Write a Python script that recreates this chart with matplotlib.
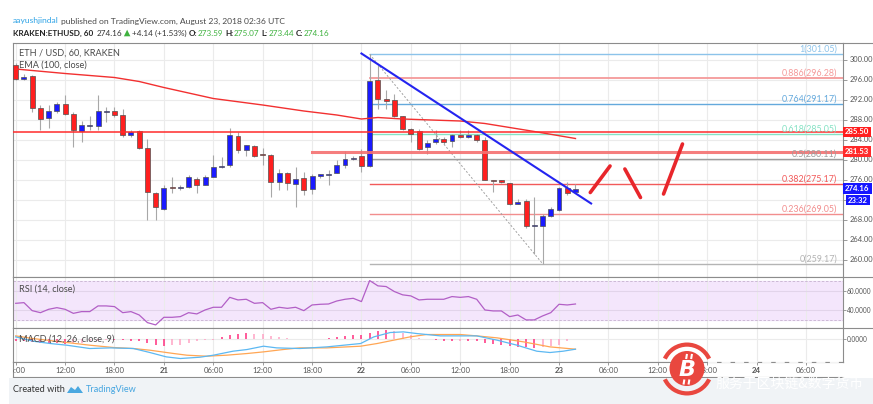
import matplotlib
matplotlib.use('Agg')
import matplotlib.pyplot as plt
from matplotlib.patches import Rectangle, Circle, Wedge, Polygon

plt.rcParams['font.family'] = ['Lato', 'DejaVu Sans']

# hourly candles, index 0 = 20 Aug 06:00 ... index 68 = 23 Aug 02:00
opens = [298.9, 296.1, 296.8, 290.4, 288.4, 289.8, 291.1, 289.2, 285.7, 286.8,
         286.7, 289.6, 289.6, 288.9, 284.9, 285.8, 282.4, 273.4, 270.1, 274.5,
         274.3, 274.6, 276.2, 274.9, 276.6, 278.6, 279.0, 284.7, 282.0, 282.8,
         281.1, 281.0, 275.6, 277.4, 275.2, 276.4, 274.2, 276.7, 277.0, 277.4,
         279.0, 280.1, 280.7, 278.7, 295.9, 292.1, 291.9, 288.7, 286.2, 285.7,
         282.6, 283.5, 284.1, 283.7, 284.9, 284.6, 284.9, 283.9, 276.0, 275.9,
         275.4, 271.1, 271.6, 266.8, 266.8, 268.7, 270.0, 274.3, 273.59]
highs = [299.3, 297.2, 297.0, 290.9, 290.9, 291.6, 292.9, 289.5, 287.8, 288.8,
         293.0, 290.5, 290.5, 290.1, 285.9, 285.9, 284.2, 273.6, 274.9, 276.6,
         274.9, 276.9, 276.6, 276.9, 281.0, 280.5, 286.4, 285.5, 282.9, 282.9,
         282.4, 281.1, 278.2, 277.6, 278.6, 277.6, 277.2, 277.2, 278.0, 279.9,
         281.8, 280.8, 282.2, 301.1, 298.9, 294.0, 293.2, 288.7, 286.4, 286.2,
         283.9, 286.0, 284.5, 285.2, 286.0, 286.0, 285.1, 284.6, 276.0, 275.9,
         275.4, 272.1, 272.1, 272.6, 269.2, 270.5, 274.6, 275.5, 275.07]
lows = [295.9, 295.9, 289.6, 286.0, 286.4, 289.4, 288.9, 282.6, 283.6, 285.9,
        286.0, 287.6, 288.6, 284.6, 284.5, 282.2, 268.0, 268.0, 269.9, 273.3,
        273.9, 274.3, 273.3, 274.9, 276.6, 278.4, 278.6, 281.3, 280.7, 280.6,
        279.0, 272.6, 273.9, 273.9, 270.6, 272.9, 273.2, 276.4, 274.9, 277.3,
        278.4, 280.0, 277.6, 278.5, 290.2, 290.2, 288.6, 286.0, 283.6, 281.9,
        281.2, 283.2, 283.2, 282.6, 284.4, 284.4, 283.6, 275.9, 273.6, 275.3,
        270.9, 271.1, 266.3, 261.2, 259.1, 268.5, 269.7, 272.9, 273.44]
closes = [296.1, 296.6, 290.4, 288.2, 289.8, 291.1, 289.2, 285.9, 286.8, 286.9,
          289.6, 289.7, 289.0, 284.9, 285.6, 282.4, 273.6, 270.6, 274.4, 274.3,
          274.5, 276.6, 274.9, 276.6, 278.6, 278.7, 284.8, 281.9, 282.8, 280.8,
          281.0, 275.6, 277.4, 275.4, 276.2, 273.9, 276.7, 277.0, 277.1, 279.0,
          280.1, 280.4, 278.7, 295.6, 292.1, 291.8, 288.7, 286.2, 285.2, 282.2,
          283.4, 284.1, 283.6, 284.9, 284.6, 285.0, 283.9, 276.0, 275.8, 275.5,
          271.1, 271.6, 266.8, 266.9, 268.7, 270.0, 274.3, 273.4, 274.16]

ema_hours = [0, 6, 12, 15, 18, 24, 30, 35, 39, 42, 44, 47, 54, 57, 63, 68]
ema_vals = [298.1, 297.2, 296.4, 295.6, 294.4, 292.2, 290.9, 289.7, 288.9,
            288.1, 288.4, 288.1, 287.7, 287.2, 285.6, 284.2]

rsi_vals = [46.9, 47.6, 39.3, 37.2, 40.7, 42.4, 40.7, 36.5, 38.3, 38.3,
            44.2, 44.2, 43.5, 37.2, 38.3, 34.8, 26.9, 24.5, 32.4, 32.4,
            33.1, 37.2, 35.9, 40.0, 42.8, 42.8, 53.1, 50.4, 51.1, 46.9,
            47.6, 40.7, 42.8, 41.7, 42.8, 39.3, 45.2, 45.9, 46.2, 49.3,
            51.1, 52.1, 48.7, 70.5, 65.0, 64.3, 59.1, 55.7, 54.6, 50.4,
            51.1, 51.1, 51.1, 53.9, 53.1, 53.9, 51.1, 40.0, 39.0, 39.0,
            33.1, 34.8, 29.7, 29.7, 33.8, 37.2, 45.9, 45.2, 46.2]

macd_hours = [0, 2.1, 4.2, 6.2, 9.0, 11.5, 14.3, 16.3, 18.3, 20.0, 22.4, 24.0,
              26.4, 28.1, 30.1, 31.7, 34.5, 37.8, 41.9, 43.5, 45.5, 47.1, 48.7,
              51.6, 56.0, 58.5, 60.9, 63.3, 64.9, 66.5, 68]
macd_vals = [0.58, -0.5, -1.08, -1.5, -2.33, -2.17, -2.33, -3.33, -4.42, -4.83,
             -4.5, -4.0, -3.0, -2.58, -1.75, -2.17, -2.33, -1.92, -1.08, 0.58,
             1.67, 1.83, 1.42, 0.83, 0.83, -0.25, -1.5, -3.0, -3.33, -3.0, -2.5]
signal_hours = [0, 2.1, 6.2, 9.0, 11.9, 14.3, 16.3, 19.2, 20.8, 23.2, 25.6, 28.1,
                30.1, 32.5, 34.5, 37.8, 41.9, 43.9, 45.9, 47.9, 49.9, 54.0, 56.0,
                58.5, 61.7, 64.9, 68]
signal_vals = [0.83, 0.17, -0.83, -1.5, -2.08, -2.33, -2.75, -3.58, -4.0, -4.25,
               -4.0, -3.58, -3.17, -2.58, -2.17, -2.17, -1.75, -1.08, -0.25, 0.58,
               1.17, 1.17, 0.83, 0.33, -0.67, -1.92, -2.5]
hist_vals = [-0.5, -0.5, -0.67, -0.83, -0.83, -0.83, -1.08, -1.0, -0.83, -0.5,
             -0.33, -0.25, -0.25, -0.25, -0.33, -0.33, -0.83, -1.33, -1.67, -1.5,
             -1.33, -0.83, -0.5, -0.25, -0.08, 0.58, 1.17, 1.42, 1.67, 1.42,
             1.33, 0.83, 0.58, 0.33, 0.17, 0.17, 0.17, 0.05, 0.33, 0.58,
             0.83, 1.0, 1.0, 1.67, 2.0, 2.25, 2.0, 1.5, 1.0, 0.33,
             0.05, -0.25, -0.33, -0.42, -0.33, -0.33, -0.33, -0.83, -1.17, -1.5,
             -1.67, -1.83, -2.0, -2.17, -2.0, -1.67, -1.33, -0.33, -0.05]

time_ticks = list(range(0, 97, 6))
time_labels = ['06:00', '12:00', '18:00', '21', '06:00', '12:00', '18:00', '22',
               '06:00', '12:00', '18:00', '23', '06:00', '12:00', '18:00', '24', '06:00']
price_ticks = list(range(260, 301, 4))
hidden_price_ticks = [272]   # covered by the countdown tag in the original

fib_ratios = [1, 0.886, 0.764, 0.618, 0.5, 0.382, 0.236, 0]
fib_prices = [301.05, 296.28, 291.17, 285.05, 280.11, 275.17, 269.05, 259.17]
fib_colors = ['#8cc3ea', '#f59a9a', '#64a9dc', '#86e2c4', '#9c9c9c', '#f25a5a', '#f28e8e', '#b4b4b4']
fib_start = 43

support_price = 285.50
resist_price = 281.53
resist_start = 36
trend_h = [42.0, 69.9]
trend_p = [301.2, 271.2]
fib_diag_h = [43, 64]
fib_diag_p = [301.05, 259.17]
sketch_h = [[69.8, 72.2], [74.0, 75.9], [78.7, 81.0]]
sketch_p = [[273.4, 278.7], [278.1, 272.4], [273.1, 283.1]]

W, H = 873, 404
XMIN, XMAX = -0.33, 100.5
GRID = '#ebebeb'
BORDER = '#8c8c8c'
TXT = '#4a4a4a'
FS = 6.6


def box(x0, y_top, x1, y_bot):
    return [x0 / W, 1 - y_bot / H, (x1 - x0) / W, (y_bot - y_top) / H]


fig = plt.figure(figsize=(W / 100, H / 100), dpi=100, facecolor='white')
ax = fig.add_axes(box(13, 43, 843, 277))
ax_rsi = fig.add_axes(box(13, 277, 843, 328))
ax_macd = fig.add_axes(box(13, 328, 843, 362))
ax_time = fig.add_axes(box(13, 362, 843, 377))

for a in (ax, ax_rsi, ax_macd, ax_time):
    a.set_xlim(XMIN, XMAX)
    for s in a.spines.values():
        s.set_color(BORDER)
        s.set_linewidth(0.8)
    a.set_xticks(time_ticks)
    a.tick_params(axis='x', length=0, labelbottom=False)
    a.yaxis.tick_right()
    a.tick_params(axis='y', length=3, width=0.6, colors=BORDER,
                  labelcolor='#555555', labelsize=5.4, pad=1.5)
for a in (ax, ax_rsi, ax_macd):
    a.grid(True, color=GRID, lw=0.8, zorder=0)
    a.set_axisbelow(True)

# --- main price panel
ax.set_ylim(256.5, 303.3)
ax.set_yticks(price_ticks)
ax.set_yticklabels(['' if v in hidden_price_ticks else f'{v:.2f}' for v in price_ticks])

for i, (o, hi, lo, c) in enumerate(zip(opens, highs, lows, closes)):
    col = '#1a1aff' if c >= o else '#ff1f1f'
    ax.vlines(i, lo, hi, color='#a8a8a8', lw=0.8, zorder=2)
    ax.bar(i, max(abs(c - o), 0.15), bottom=min(o, c), width=0.6, color=col,
           edgecolor='#505050', lw=0.5, zorder=3)

ax.plot(ema_hours, ema_vals, color='#f23030', lw=1.0, zorder=4)

for r, p, col in zip(fib_ratios, fib_prices, fib_colors):
    ax.plot([fib_start, XMAX], [p, p], color=col, lw=1.3 if r == 0.886 else 1.0, zorder=1)
    ax.text(99.8, p + 0.1, f'{r:g}({p:.2f})', color=col, fontsize=6.4,
            ha='right', va='bottom', zorder=5)
ax.plot(fib_diag_h, fib_diag_p, color='#a0a0a0', lw=0.7, dashes=(2, 2), zorder=2)

ax.axhline(support_price, color='#ff2b2b', lw=1.1, zorder=4)
ax.plot([resist_start, XMAX], [resist_price] * 2, color='#f47070', lw=2.2, alpha=0.9, zorder=4)
ax.plot(trend_h, trend_p, color='#2424f0', lw=1.5, zorder=5)
for hh, pp in zip(sketch_h, sketch_p):
    ax.plot(hh, pp, color='#e8262b', lw=2.6, solid_capstyle='round', zorder=6)

tags = [(support_price, f'{support_price:.2f}', '#ff1e1e', 1.5),
        (resist_price, f'{resist_price:.2f}', '#ff2a2a', 1.5),
        (closes[-1], f'{closes[-1]:.2f}', '#1515ff', 1.5),
        (271.9, '23:32', '#1515ff', 3.5)]
for p, label, col, dx in tags:
    ax.annotate(label, xy=(1, p), xycoords=('axes fraction', 'data'),
                xytext=(dx, 0), textcoords='offset points', color='white',
                fontsize=5.6, fontweight='bold', ha='left', va='center',
                annotation_clip=False, zorder=8,
                bbox=dict(boxstyle='square,pad=0.25', fc=col, ec='none'))

ax.text(0.007, 0.955, 'ETH / USD, 60, KRAKEN', transform=ax.transAxes,
        fontsize=FS, color=TXT, va='center')
ax.text(0.007, 0.905, 'EMA (100, close)', transform=ax.transAxes,
        fontsize=FS, color=TXT, va='center')

# --- RSI panel
ax_rsi.set_ylim(21.3, 74.2)
ax_rsi.axhspan(30, 70, color='#f4e6fc', zorder=0)
for lvl in (30, 70):
    ax_rsi.axhline(lvl, color='#c6b2cf', lw=0.6, dashes=(3, 2), zorder=1)
ax_rsi.set_yticks([40, 60])
ax_rsi.set_yticklabels(['40.0000', '60.0000'])
ax_rsi.grid(True, axis='y', color='#e2d4ea', lw=0.8)
ax_rsi.plot(range(len(rsi_vals)), rsi_vals, color='#b25fc6', lw=0.9, zorder=3)
ax_rsi.text(0.007, 0.77, 'RSI (14, close)', transform=ax_rsi.transAxes,
            fontsize=FS, color=TXT, va='center')

# --- MACD panel
ax_macd.set_ylim(-5.7, 2.8)
ax_macd.set_yticks([0])
ax_macd.set_yticklabels(['0.0000'])
for i, v in enumerate(hist_vals):
    grow = i == 0 or abs(v) >= abs(hist_vals[i - 1])
    ax_macd.vlines(i, 0, v, color='#ff2f7e' if grow else '#ffa3c4', lw=1.1, zorder=2)
ax_macd.plot(signal_hours, signal_vals, color='#ffa654', lw=0.9, zorder=3)
ax_macd.plot(macd_hours, macd_vals, color='#5cb8f2', lw=0.9, zorder=3)
ax_macd.text(0.007, 0.66, 'MACD (12, 26, close, 9)', transform=ax_macd.transAxes,
             fontsize=FS, color=TXT, va='center', zorder=5)
for a in (ax_rsi, ax_macd):
    a.tick_params(axis='y', length=2, labelsize=4.7, pad=0.6)

# --- time scale
ax_time.set_ylim(0, 1)
ax_time.set_yticks([])
ax_time.spines['right'].set_visible(False)
ax_time.tick_params(axis='x', length=2, width=0.6, color=BORDER, top=True,
                    bottom=False, direction='in')
for t, lab in zip(time_ticks, time_labels):
    ax_time.text(t, 0.45, lab, ha='center', va='center', fontsize=5.6,
                 color='#555555', fontweight='bold' if ':' not in lab else 'normal',
                 clip_on=True)

# --- overlay: header, footer, watermark (pixel coordinates)
ov = fig.add_axes([0, 0, 1, 1], zorder=10)
ov.set_xlim(0, W)
ov.set_ylim(H, 0)
ov.axis('off')
ov.patch.set_alpha(0)
renderer = fig.canvas.get_renderer()
GREEN = '#3fb23f'
DARK = '#222222'


def run_text(x, y, pieces, size):
    # lay pieces out left to right, measuring each one
    for s, col, wt, gap in pieces:
        if s == '^':
            ov.add_patch(Polygon([(x, y + 3.3), (x + 6.5, y + 3.3), (x + 3.25, y - 3.3)],
                                 closed=True, fc=GREEN, ec='none'))
            x += 6.5 + gap
            continue
        t = ov.text(x, y, s, fontsize=size, color=col, fontweight=wt, va='center')
        x += t.get_window_extent(renderer).width + gap


for yy in (43, 277, 328):
    ov.plot([843, W], [yy, yy], color=BORDER, lw=0.8)

ov.add_patch(Rectangle((9, 377.6), W - 9, H - 377.6, fc='#f0f3f6', ec='none', zorder=0))
ov.text(13, 390, 'Created with', fontsize=6.6, color='#333333', va='center')
ov.add_patch(Polygon([(67, 393), (71, 387), (75, 390), (78, 386), (83, 393)],
                     closed=True, fc='#4aa8e0', ec='none'))
ov.text(86, 390, 'TradingView', fontsize=6.6, color='#45a5e0', va='center')

run_text(13, 21, [('aayushjindal', '#2ea3e6', 'normal', 2),
                  ('published on TradingView.com, August 23, 2018 02:36 UTC', TXT, 'normal', 0)], 6.1)
run_text(13, 33, [('KRAKEN:ETHUSD, 60', DARK, 'bold', 3),
                  ('274.16', '#333333', 'normal', 2),
                  ('^', GREEN, 'normal', 1.5),
                  ('+4.14 (+1.53%)', '#333333', 'normal', 2.5),
                  ('O:', DARK, 'bold', 0.3), ('273.59', GREEN, 'normal', 2),
                  ('H:', DARK, 'bold', 0.3), ('275.07', GREEN, 'normal', 2),
                  ('L:', DARK, 'bold', 0.3), ('273.44', GREEN, 'normal', 2),
                  ('C:', DARK, 'bold', 0.3), ('274.16', GREEN, 'normal', 0)], 5.9)

# watermark
ov.plot([708, 841], [362, 362], color='white', lw=1.3, dashes=(5, 2.5), zorder=3)
wm_red = '#e9473f'
ov.add_patch(Wedge((687, 369), 26.5, 205, 335, width=4.2, fc=wm_red, ec='none', zorder=4))
ov.add_patch(Wedge((687, 369), 26.5, 25, 155, width=4.2, fc=wm_red, ec='none', zorder=4))
ov.add_patch(Circle((687, 368.5), 17.5, fc=wm_red, ec='none', zorder=4))
ov.text(687.5, 369.5, 'B', fontsize=16, color='white', fontweight='bold', style='italic',
        family='DejaVu Sans', ha='center', va='center', zorder=5)
for bx in (685.5, 690.5):
    ov.plot([bx + 0.8, bx + 1.3], [358, 355], color='white', lw=1.5, zorder=5)
    ov.plot([bx - 1.8, bx - 1.3], [383.5, 380.5], color='white', lw=1.5, zorder=5)
ov.text(790, 384, '服务于区块链&数字货币', fontsize=10, color='white',
        family=['Noto Sans CJK SC', 'DejaVu Sans'], ha='center', va='center', zorder=5)

fig.savefig('out.png', dpi=100, facecolor='white')
